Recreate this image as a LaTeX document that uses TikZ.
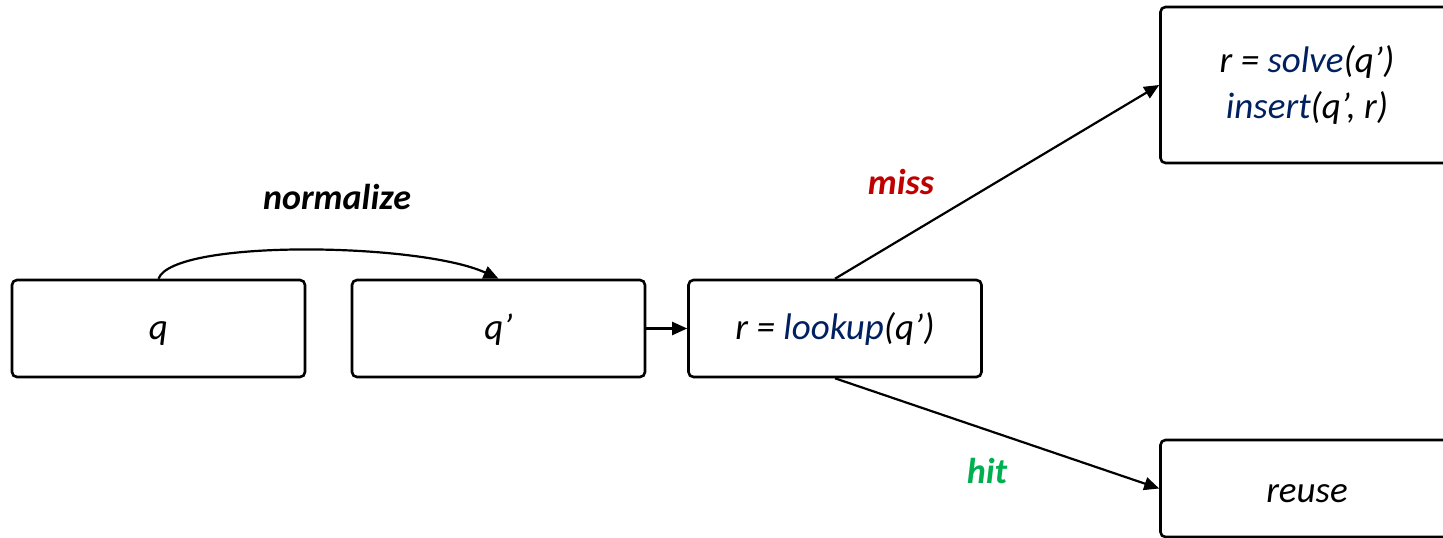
\documentclass[tikz,border=0pt]{standalone}
\usepackage{fontspec}
\setmainfont{Carlito}
\usetikzlibrary{arrows.meta}
\definecolor{fnblue}{HTML}{002060}
\definecolor{missred}{HTML}{C00000}
\definecolor{hitgreen}{HTML}{00B050}
\tikzset{
  box/.style={draw, line width=2.6pt, rounded corners=5pt,
    minimum width=293pt, minimum height=97pt, inner sep=0pt,
    font=\fontsize{37}{46}\selectfont\itshape},
  onerow/.style={text height=#1, text depth=0pt},
  onerow/.default=22pt,
  arr/.style={line width=2.2pt, -{Triangle[length=15pt,width=13pt]}},
  lbl/.style={font=\fontsize{36}{40}\selectfont\bfseries\itshape},
}
\begin{document}
\begin{tikzpicture}[x=1pt,y=-1pt]
  \useasboundingbox (0,0) rectangle (1443,538);
  \clip (0,0) rectangle (1443,538);

  % main chain
  \node[box, onerow] (q)  at (158.5,328.5) {q};
  \node[box, onerow] (qp) at (498.5,328.5) {q’};
  \node[box, onerow] (lk) at (835,328.5) {r = \textcolor{fnblue}{lookup}(q’)};

  % outcome boxes (run past the right edge)
  \node[box, align=center, minimum height=156pt] (solve) at (1307,85)
    {r = \textcolor{fnblue}{solve}(q’)\\\textcolor{fnblue}{insert}(q’, r)};
  \node[box, onerow=27pt] (reuse) at (1307,488.5) {reuse};

  % connectors
  \draw[arr] (q.north) .. controls +(15,-40) and +(-78,-36) .. (qp.north);
  \draw[arr] (qp.east) -- (lk.west);
  \draw[arr] (lk.north) -- (solve.west);
  \draw[arr] (lk.south) -- (reuse.west);

  % labels
  \node[lbl] (nl) at (337,197) {normalize};
  \node[lbl, text=missred] (ml) at (901,182) {miss};
  \node[lbl, text=hitgreen] (hl) at (987,471) {hit};
\end{tikzpicture}
\end{document}
